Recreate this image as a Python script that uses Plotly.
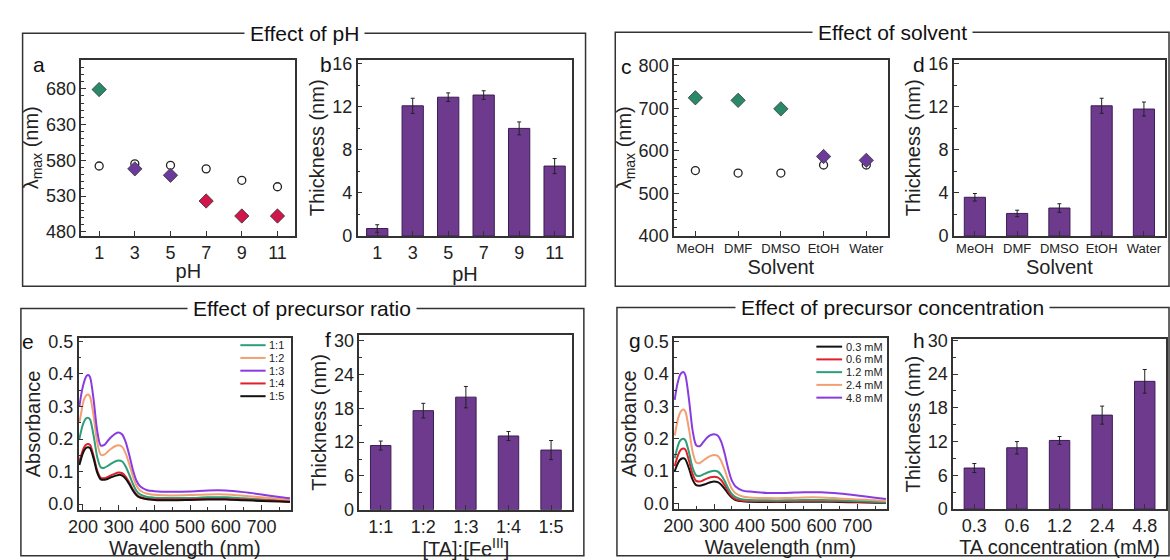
import plotly.graph_objects as go

# ---------------- DATA ----------------
ph = [1, 3, 5, 7, 9, 11]
a_open = [572, 575, 573, 568, 552, 543]
a_diamond = [679, 568, 559, 523, 502, 502]
b_thick = [0.7, 12.1, 12.9, 13.1, 10.0, 6.5]
b_err = [0.35, 0.7, 0.4, 0.4, 0.6, 0.7]

solvents = ["MeOH", "DMF", "DMSO", "EtOH", "Water"]
c_open = [554, 548, 548, 567, 567]
c_diamond = [725, 719, 699, 587, 578]
d_thick = [3.6, 2.1, 2.6, 12.1, 11.8]
d_err = [0.35, 0.3, 0.4, 0.7, 0.65]

ratios = ["1:1", "1:2", "1:3", "1:4", "1:5"]
f_thick = [11.4, 17.6, 20.0, 13.1, 10.6]
f_err = [0.8, 1.3, 1.9, 0.8, 1.7]

concs = ["0.3", "0.6", "1.2", "2.4", "4.8"]
conc_names = ["0.3 mM", "0.6 mM", "1.2 mM", "2.4 mM", "4.8 mM"]
h_thick = [7.3, 10.9, 12.2, 16.7, 22.7]
h_err = [0.8, 1.1, 0.7, 1.6, 2.1]

wl = [190, 195, 200, 205, 210, 215, 220, 230, 240, 250, 260, 270, 280, 290, 300, 310, 320,
      330, 340, 350, 360, 380, 400, 450, 500, 550, 600, 650, 700, 750, 780]

e_11 = [0.20, 0.225, 0.245, 0.258, 0.264, 0.265, 0.26, 0.21, 0.145, 0.113, 0.112, 0.118, 0.125, 0.131, 0.134, 0.131, 0.115,
        0.09, 0.062, 0.041, 0.03, 0.022, 0.02, 0.019, 0.019, 0.021, 0.021, 0.018, 0.015, 0.012, 0.01]
e_12 = [0.25, 0.28, 0.31, 0.327, 0.335, 0.337, 0.33, 0.27, 0.19, 0.152, 0.152, 0.162, 0.171, 0.178, 0.181, 0.176, 0.155,
        0.122, 0.085, 0.057, 0.042, 0.032, 0.029, 0.027, 0.028, 0.03, 0.03, 0.026, 0.021, 0.016, 0.013]
e_13 = [0.30, 0.335, 0.362, 0.382, 0.394, 0.397, 0.39, 0.32, 0.225, 0.18, 0.182, 0.195, 0.207, 0.216, 0.22, 0.214, 0.19,
        0.15, 0.105, 0.072, 0.055, 0.043, 0.04, 0.038, 0.039, 0.042, 0.042, 0.037, 0.030, 0.022, 0.018]
e_14 = [0.13, 0.15, 0.167, 0.178, 0.184, 0.185, 0.182, 0.148, 0.103, 0.081, 0.08, 0.084, 0.089, 0.094, 0.097, 0.095, 0.084,
        0.066, 0.045, 0.03, 0.022, 0.016, 0.015, 0.014, 0.015, 0.016, 0.016, 0.014, 0.012, 0.01, 0.008]
e_15 = [0.12, 0.14, 0.157, 0.168, 0.174, 0.175, 0.172, 0.14, 0.097, 0.076, 0.075, 0.078, 0.083, 0.087, 0.09, 0.088, 0.078,
        0.061, 0.042, 0.027, 0.02, 0.015, 0.013, 0.012, 0.013, 0.014, 0.014, 0.012, 0.01, 0.008, 0.007]

g_03 = [0.10, 0.115, 0.127, 0.135, 0.139, 0.14, 0.136, 0.108, 0.074, 0.057, 0.055, 0.058, 0.062, 0.066, 0.068, 0.066, 0.058,
        0.045, 0.03, 0.018, 0.011, 0.007, 0.006, 0.005, 0.005, 0.006, 0.006, 0.005, 0.004, 0.003, 0.003]
g_06 = [0.115, 0.135, 0.152, 0.163, 0.169, 0.17, 0.166, 0.132, 0.091, 0.07, 0.068, 0.072, 0.077, 0.081, 0.083, 0.081, 0.072,
        0.056, 0.037, 0.022, 0.014, 0.009, 0.008, 0.007, 0.007, 0.008, 0.008, 0.007, 0.006, 0.005, 0.004]
g_12 = [0.14, 0.163, 0.182, 0.194, 0.199, 0.2, 0.195, 0.157, 0.11, 0.087, 0.085, 0.09, 0.095, 0.099, 0.101, 0.099, 0.088,
        0.069, 0.046, 0.029, 0.02, 0.013, 0.011, 0.01, 0.01, 0.011, 0.011, 0.01, 0.008, 0.006, 0.005]
g_24 = [0.21, 0.24, 0.265, 0.28, 0.288, 0.29, 0.283, 0.228, 0.16, 0.127, 0.125, 0.133, 0.141, 0.147, 0.15, 0.147, 0.131,
        0.103, 0.07, 0.045, 0.032, 0.022, 0.019, 0.017, 0.017, 0.019, 0.019, 0.016, 0.013, 0.01, 0.008]
g_48 = [0.32, 0.355, 0.38, 0.397, 0.404, 0.405, 0.395, 0.32, 0.225, 0.18, 0.177, 0.19, 0.203, 0.211, 0.214, 0.21, 0.19,
        0.152, 0.105, 0.07, 0.053, 0.04, 0.037, 0.033, 0.033, 0.035, 0.035, 0.031, 0.025, 0.018, 0.014]

# ---------------- STYLE ----------------
W, H = 1170, 560
FONT = "Arial, Liberation Sans, Helvetica, sans-serif"
GREEN, PURPLE, RED = "#2a8a68", "#6b3a9a", "#d0164a"
BAR = "#6e3a8e"
BAR_EDGE = "#3b1d52"
C_GREEN, C_ORANGE, C_PURPLE, C_RED, C_BLACK = "#2e9e7a", "#f2a073", "#8a3be0", "#e02028", "#111111"
a_diamond_colors = [GREEN, PURPLE, PURPLE, RED, RED, RED]
c_diamond_colors = [GREEN, GREEN, GREEN, PURPLE, PURPLE]
e_series = [("1:1", e_11, C_GREEN), ("1:2", e_12, C_ORANGE), ("1:3", e_13, C_PURPLE),
            ("1:4", e_14, C_RED), ("1:5", e_15, C_BLACK)]
g_series = [(conc_names[0], g_03, C_BLACK), (conc_names[1], g_06, C_RED), (conc_names[2], g_12, C_GREEN),
            (conc_names[3], g_24, C_ORANGE), (conc_names[4], g_48, C_PURPLE)]
TICK = 18
TITLE = 20


def px(x):
    return x / W


def py(y):
    return 1 - y / H


fig = go.Figure()


def axis(dom, rng, tickfont=TICK, title=None, standoff=2, **kw):
    d = dict(domain=dom, range=rng, showline=True, linecolor="#333", linewidth=1.5, mirror=True,
             ticks="inside", ticklen=5, tickwidth=1.2, tickcolor="#333", showgrid=False, zeroline=False,
             tickfont=dict(size=tickfont, color="#222", family=FONT))
    if title is not None:
        d["title"] = dict(text=title, font=dict(size=TITLE, color="#222", family=FONT), standoff=standoff)
    d.update(kw)
    return d


def minor(dt):
    return dict(ticks="inside", ticklen=3, tickcolor="#333", tickwidth=1, dtick=dt, showgrid=False)


# panel domains in pixels: (x0, x1, ytop, ybottom)
P = {
    1: (71, 287, 52.3, 235),
    2: (350, 566.7, 52.3, 235),
    3: (669.3, 885, 52.3, 235),
    4: (951.7, 1165, 52.3, 235),
    5: (68.3, 282.7, 340.7, 518.3),
    6: (351.7, 566.7, 337.7, 518.3),
    7: (669.3, 884.3, 340.7, 517.7),
    8: (951, 1166, 341.7, 517.7),
}


def xd(i):
    return [px(P[i][0]), px(P[i][1])]


def yd(i):
    return [py(P[i][3]), py(P[i][2])]


# ---- a ----
fig.add_trace(go.Scatter(x=ph, y=a_open, mode="markers", xaxis="x", yaxis="y",
                         marker=dict(symbol="circle-open", size=8, color="#222", line=dict(width=1.3))))
fig.add_trace(go.Scatter(x=ph, y=a_diamond, mode="markers", xaxis="x", yaxis="y",
                         marker=dict(symbol="diamond", size=11, color=a_diamond_colors,
                                     line=dict(width=0.8, color="#333"))))
# ---- b ----
fig.add_trace(go.Bar(x=ph, y=b_thick, width=1.2, xaxis="x2", yaxis="y2",
                     marker=dict(color=BAR, line=dict(color=BAR_EDGE, width=1)),
                     error_y=dict(type="data", array=b_err, color="#222", thickness=1, width=2)))
# ---- c ----
fig.add_trace(go.Scatter(x=solvents, y=c_open, mode="markers", xaxis="x3", yaxis="y3",
                         marker=dict(symbol="circle-open", size=8, color="#222", line=dict(width=1.3))))
fig.add_trace(go.Scatter(x=solvents, y=c_diamond, mode="markers", xaxis="x3", yaxis="y3",
                         marker=dict(symbol="diamond", size=11, color=c_diamond_colors,
                                     line=dict(width=0.8, color="#333"))))
# ---- d ----
fig.add_trace(go.Bar(x=solvents, y=d_thick, width=0.5, xaxis="x4", yaxis="y4",
                     marker=dict(color=BAR, line=dict(color=BAR_EDGE, width=1)),
                     error_y=dict(type="data", array=d_err, color="#222", thickness=1, width=2)))
# ---- e ----
for name, vals, col in e_series:
    fig.add_trace(go.Scatter(x=wl, y=vals, mode="lines", name=name, xaxis="x5", yaxis="y5",
                             line=dict(color=col, width=2, shape="spline", smoothing=0.8)))
# ---- f ----
fig.add_trace(go.Bar(x=ratios, y=f_thick, width=0.48, xaxis="x6", yaxis="y6",
                     marker=dict(color=BAR, line=dict(color=BAR_EDGE, width=1)),
                     error_y=dict(type="data", array=f_err, color="#222", thickness=1, width=2)))
# ---- g ----
for name, vals, col in g_series:
    fig.add_trace(go.Scatter(x=wl, y=vals, mode="lines", name=name, xaxis="x7", yaxis="y7",
                             line=dict(color=col, width=2, shape="spline", smoothing=0.8)))
# ---- h ----
fig.add_trace(go.Bar(x=concs, y=h_thick, width=0.48, xaxis="x8", yaxis="y8",
                     marker=dict(color=BAR, line=dict(color=BAR_EDGE, width=1)),
                     error_y=dict(type="data", array=h_err, color="#222", thickness=1, width=2)))

lay = dict(
    width=W, height=H, margin=dict(l=0, r=0, t=0, b=0), showlegend=False,
    paper_bgcolor="white", plot_bgcolor="white", font=dict(family=FONT, color="#222"),
    xaxis=axis(xd(1), [0, 12], TICK, "pH", anchor="y", tickvals=ph),
    yaxis=axis(yd(1), [474, 721], TICK, "λ<sub>max</sub> (nm)", anchor="x", dtick=50, tick0=480, minor=minor(10)),
    xaxis2=axis(xd(2), [-0.1, 12], TICK, "pH", anchor="y2", tickvals=ph),
    yaxis2=axis(yd(2), [0, 16.4], TICK, "Thickness (nm)", anchor="x2", dtick=4, minor=minor(2)),
    xaxis3=axis(xd(3), [-0.5, 4.5], 13, "Solvent", anchor="y3", type="category"),
    yaxis3=axis(yd(3), [400, 815], TICK, "λ<sub>max</sub> (nm)", anchor="x3", dtick=100, minor=minor(20)),
    xaxis4=axis(xd(4), [-0.5, 4.5], 13, "Solvent", anchor="y4", type="category"),
    yaxis4=axis(yd(4), [0, 16.4], TICK, "Thickness (nm)", anchor="x4", dtick=4, minor=minor(2)),
    xaxis5=axis(xd(5), [188, 783], TICK, "Wavelength (nm)", anchor="y5", dtick=100, minor=minor(50)),
    yaxis5=axis(yd(5), [-0.017, 0.51], TICK, "Absorbance", anchor="x5", dtick=0.1, tickformat=".1f", minor=minor(0.05)),
    xaxis6=axis(xd(6), [-0.5, 4.5], TICK, "[TA]:[Fe<sup>III</sup>]", standoff=7, anchor="y6", type="category"),
    yaxis6=axis(yd(6), [0, 31], TICK, "Thickness (nm)", anchor="x6", dtick=6, minor=minor(3)),
    xaxis7=axis(xd(7), [188, 783], TICK, "Wavelength (nm)", anchor="y7", dtick=100, minor=minor(50)),
    yaxis7=axis(yd(7), [-0.017, 0.51], TICK, "Absorbance", anchor="x7", dtick=0.1, tickformat=".1f", minor=minor(0.05)),
    xaxis8=axis(xd(8), [-0.5, 4.5], TICK, "TA concentration (mM)", anchor="y8", type="category"),
    yaxis8=axis(yd(8), [0, 30.2], TICK, "Thickness (nm)", anchor="x8", dtick=6, minor=minor(3)),
)
fig.update_layout(**lay)

shapes = []
annotations = []

# group frames and titles
frames = [
    (11.7, 580, 25, 287, "Effect of pH"),
    (610, 1169, 24, 287, "Effect of solvent"),
    (10, 578.3, 310, 566, "Effect of precursor ratio"),
    (611.7, 1169, 309, 566, "Effect of precursor concentration"),
]
for x0, x1, y0, y1, t in frames:
    shapes.append(dict(type="rect", xref="paper", yref="paper", x0=px(x0), x1=px(x1), y0=py(y1), y1=py(y0),
                       line=dict(color="#333", width=1.5), fillcolor="rgba(0,0,0,0)", layer="below"))
    annotations.append(dict(text=t, xref="paper", yref="paper", x=px((x0 + x1) / 2), y=py(y0),
                            xanchor="center", yanchor="middle", showarrow=False, bgcolor="white",
                            borderpad=5, font=dict(size=21, color="#111", family=FONT)))

# panel letters
letters = [("a", 28, 57), ("b", 318, 57), ("c", 621, 60), ("d", 917, 57),
           ("e", 17, 344), ("f", 320, 342), ("g", 630, 343), ("h", 917, 343)]
for L, x, y in letters:
    annotations.append(dict(text=L, xref="paper", yref="paper", x=px(x), y=py(y), xanchor="center",
                            yanchor="middle", showarrow=False, font=dict(size=21, color="#111", family=FONT)))

# manual compact legends
for series, lx0, lx1, ytop in [(e_series, 231.5, 257, 348), (g_series, 813, 839, 349.5)]:
    for k, (name, _, col) in enumerate(series):
        yy = ytop + 13.2 * k
        shapes.append(dict(type="line", xref="paper", yref="paper", x0=px(lx0), x1=px(lx1), y0=py(yy), y1=py(yy),
                           line=dict(color=col, width=2)))
        annotations.append(dict(text=name, xref="paper", yref="paper", x=px(lx1 + 1.5), y=py(yy),
                                xanchor="left", yanchor="middle", showarrow=False,
                                font=dict(size=11, color="#222", family=FONT)))

fig.update_layout(shapes=shapes, annotations=annotations)
fig.write_html("out.html", config={"displayModeBar": False},
               post_script="document.body.style.margin='0px';document.body.style.overflow='hidden';")
